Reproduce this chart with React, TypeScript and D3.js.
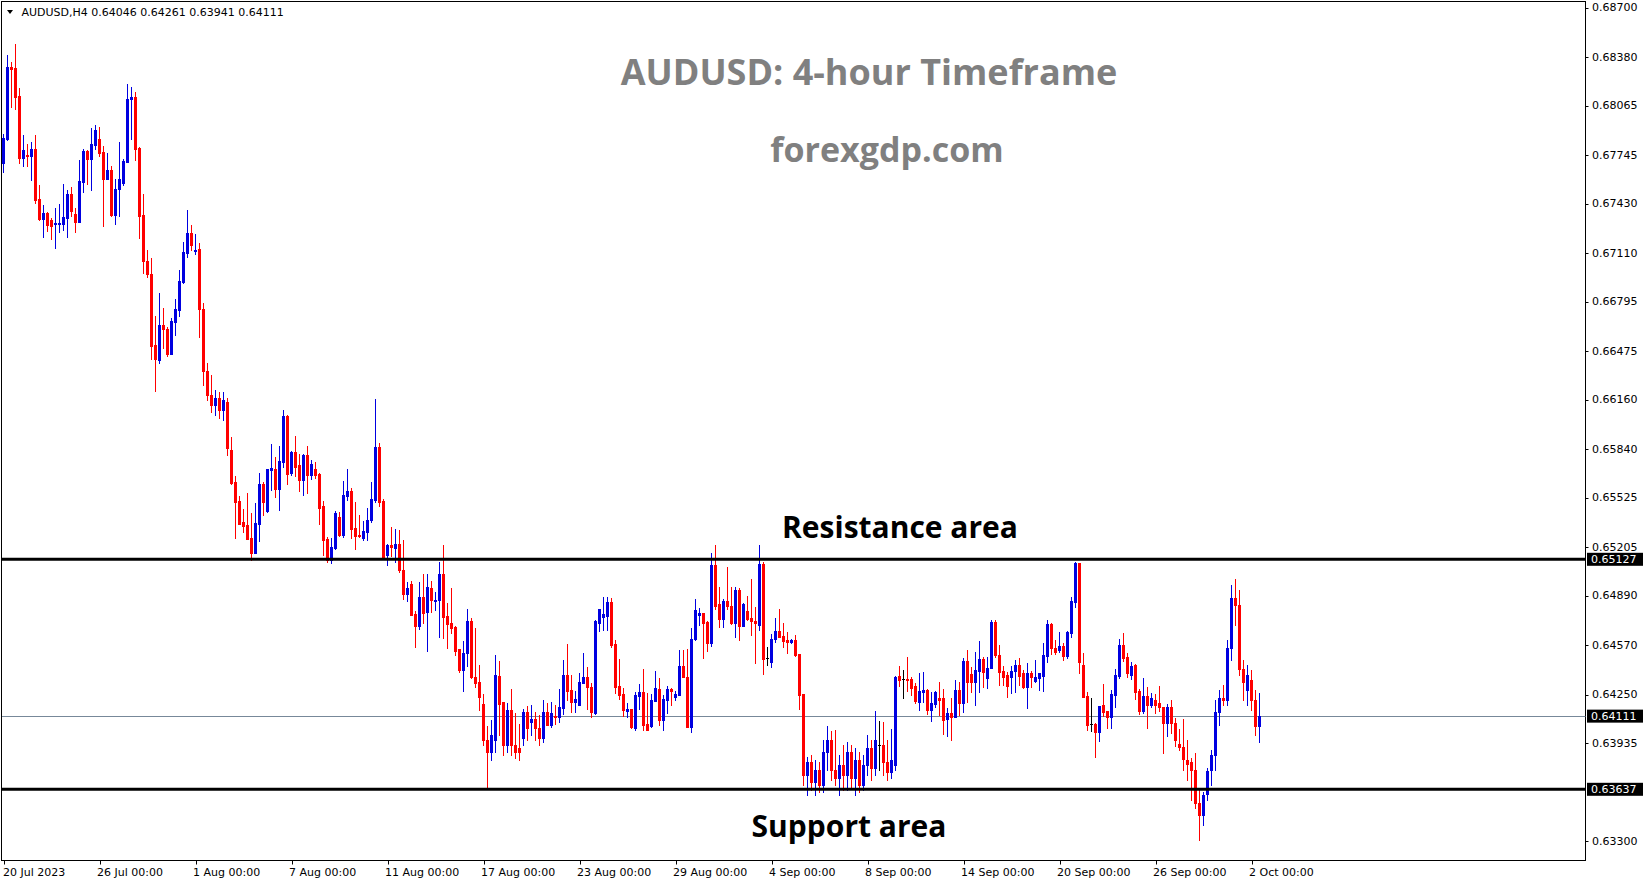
import React from 'react';
import * as d3 from 'd3';

const openP = [
0.67695,0.67850,0.68317,0.68310,0.68129,0.67727,0.67747,0.67740,0.67786,0.67462,
0.67332,0.67371,0.67325,0.67300,0.67300,0.67300,0.67338,0.67494,0.67364,0.67312,
0.67572,0.67773,0.67721,0.67811,0.67850,0.67766,0.67591,0.67649,0.67358,0.67526,
0.67565,0.67701,0.68110,0.68123,0.67792,0.67358,0.67060,0.66975,0.66515,0.66418,
0.66645,0.66619,0.66457,0.66664,0.66742,0.66924,0.67112,0.67241,0.67125,0.67138,
0.66749,0.66347,0.66191,0.66127,0.66172,0.66094,0.66146,0.65835,0.65628,0.65506,
0.65369,0.65350,0.65266,0.65169,0.65357,0.65615,0.65441,0.65705,0.65712,0.65582,
0.65757,0.66055,0.65686,0.65822,0.65738,0.65641,0.65803,0.65673,0.65712,0.65680,
0.65473,0.65259,0.65123,0.65201,0.65402,0.65285,0.65537,0.65569,0.65331,0.65285,
0.65266,0.65305,0.65382,0.65512,0.65854,0.65506,0.65156,0.65220,0.65201,0.65227,
0.65058,0.64903,0.64968,0.64773,0.64696,0.64884,0.64786,0.64942,0.64858,0.64864,
0.65033,0.64761,0.64715,0.64689,0.64547,0.64410,0.64521,0.64728,0.64365,0.64333,
0.64190,0.63957,0.63879,0.63957,0.64372,0.64203,0.63924,0.64151,0.63924,0.63905,
0.63970,0.64138,0.64073,0.64093,0.64035,0.63970,0.64138,0.64054,0.64112,0.64106,
0.64164,0.64378,0.64281,0.64203,0.64184,0.64326,0.64365,0.64300,0.64132,0.64715,
0.64754,0.64761,0.64851,0.64579,0.64307,0.64255,0.64145,0.64158,0.64035,0.64242,
0.64268,0.64061,0.64048,0.64210,0.64287,0.64086,0.64216,0.64287,0.64236,0.64248,
0.64436,0.64365,0.64041,0.64611,0.64767,0.64780,0.64721,0.64585,0.65091,0.64838,
0.64741,0.64858,0.64825,0.64715,0.64929,0.64696,0.64793,0.64747,0.64728,0.64702,
0.65097,0.64488,0.64462,0.64611,0.64663,0.64631,0.64605,0.64592,0.64605,0.64514,
0.64255,0.63730,0.63814,0.63685,0.63762,0.63665,0.63879,0.63957,0.63762,0.63711,
0.63795,0.63730,0.63879,0.63711,0.63827,0.63665,0.63795,0.63905,0.63776,0.63924,
0.63924,0.63814,0.63750,0.63795,0.64372,0.64352,0.64352,0.64352,0.64307,0.64203,
0.64268,0.64281,0.64151,0.64190,0.64229,0.64229,0.64093,0.64132,0.64106,0.64281,
0.64197,0.64469,0.64385,0.64333,0.64404,0.64482,0.64359,0.64423,0.64721,0.64508,
0.64404,0.64378,0.64365,0.64404,0.64443,0.64391,0.64300,0.64391,0.64339,0.64359,
0.64372,0.64501,0.64709,0.64553,0.64540,0.64566,0.64501,0.64650,0.64851,0.65104,
0.64443,0.64242,0.64061,0.64061,0.64009,0.64184,0.64145,0.64106,0.64248,0.64372,
0.64572,0.64495,0.64378,0.64443,0.64274,0.64145,0.64242,0.64184,0.64216,0.64197,
0.64171,0.64067,0.64171,0.64067,0.63931,0.63911,0.63827,0.63814,0.63762,0.63548,
0.63471,0.63607,0.63762,0.63860,0.64138,0.64229,0.64216,0.64553,0.64877,0.64832,
0.64417,0.64281,0.64346,0.64216,0.64046
];

const highP = [
0.67883,0.68395,0.68349,0.68466,0.68181,0.67876,0.67818,0.67831,0.67876,0.67552,
0.67423,0.67377,0.67338,0.67403,0.67429,0.67559,0.67520,0.67539,0.67403,0.67714,
0.67786,0.67779,0.67922,0.67941,0.67928,0.67805,0.67760,0.67675,0.67591,0.67831,
0.67721,0.68207,0.68187,0.68155,0.67798,0.67494,0.67131,0.67079,0.66703,0.66852,
0.66755,0.66632,0.66690,0.66814,0.67001,0.67183,0.67390,0.67293,0.67235,0.67176,
0.66788,0.66399,0.66321,0.66224,0.66211,0.66211,0.66172,0.65919,0.65667,0.65537,
0.65454,0.65556,0.65428,0.65493,0.65686,0.65628,0.65712,0.65874,0.65790,0.65861,
0.66094,0.66062,0.65829,0.65926,0.65809,0.65809,0.65861,0.65770,0.65757,0.65686,
0.65506,0.65272,0.65266,0.65441,0.65434,0.65634,0.65712,0.65589,0.65499,0.65415,
0.65376,0.65460,0.65628,0.66166,0.65880,0.65518,0.65227,0.65337,0.65324,0.65318,
0.65253,0.64981,0.64987,0.64793,0.64981,0.65033,0.65033,0.64987,0.64916,0.65110,
0.65220,0.64845,0.64942,0.64696,0.64547,0.64598,0.64806,0.64747,0.64683,0.64443,
0.64255,0.64048,0.64086,0.64508,0.64469,0.64203,0.64197,0.64287,0.64132,0.64061,
0.64158,0.64177,0.64184,0.64138,0.64119,0.64216,0.64197,0.64203,0.64184,0.64287,
0.64475,0.64579,0.64378,0.64274,0.64391,0.64521,0.64430,0.64326,0.64734,0.64806,
0.64884,0.64884,0.64877,0.64605,0.64482,0.64294,0.64197,0.64158,0.64268,0.64320,
0.64417,0.64261,0.64255,0.64404,0.64359,0.64248,0.64307,0.64294,0.64274,0.64540,
0.64540,0.64547,0.64683,0.64871,0.64812,0.64780,0.64728,0.65169,0.65220,0.64948,
0.64871,0.65078,0.64948,0.64948,0.64942,0.64845,0.64890,0.65000,0.64819,0.65220,
0.65110,0.64559,0.64644,0.64747,0.64806,0.64715,0.64657,0.64611,0.64637,0.64514,
0.64255,0.63847,0.63860,0.63827,0.63814,0.63957,0.64048,0.64015,0.64022,0.63860,
0.63924,0.63944,0.63924,0.63905,0.63879,0.63860,0.63989,0.63957,0.64145,0.64080,
0.64073,0.63957,0.64028,0.64372,0.64436,0.64410,0.64495,0.64365,0.64326,0.64391,
0.64398,0.64287,0.64268,0.64274,0.64333,0.64287,0.64164,0.64229,0.64346,0.64333,
0.64488,0.64540,0.64430,0.64527,0.64598,0.64495,0.64495,0.64734,0.64734,0.64572,
0.64436,0.64398,0.64436,0.64475,0.64488,0.64410,0.64456,0.64404,0.64475,0.64391,
0.64585,0.64734,0.64715,0.64605,0.64657,0.64585,0.64663,0.64884,0.65110,0.65104,
0.64521,0.64268,0.64229,0.64067,0.64177,0.64320,0.64145,0.64281,0.64417,0.64611,
0.64650,0.64521,0.64462,0.64449,0.64287,0.64359,0.64300,0.64261,0.64255,0.64307,
0.64171,0.64190,0.64216,0.64099,0.64028,0.64093,0.63957,0.63840,0.63873,0.63633,
0.63620,0.63776,0.63892,0.64216,0.64281,0.64313,0.64605,0.64961,0.65000,0.64929,
0.64475,0.64443,0.64410,0.64281,0.64261
];

const lowP = [
0.67636,0.67844,0.68058,0.68045,0.67695,0.67675,0.67675,0.67585,0.67436,0.67325,
0.67215,0.67254,0.67202,0.67144,0.67248,0.67261,0.67215,0.67351,0.67248,0.67312,
0.67507,0.67559,0.67520,0.67786,0.67740,0.67287,0.67591,0.67351,0.67300,0.67351,
0.67552,0.67701,0.67850,0.67714,0.67209,0.66982,0.66956,0.66425,0.66217,0.66399,
0.66496,0.66444,0.66457,0.66580,0.66703,0.66917,0.67086,0.67131,0.67105,0.66567,
0.66256,0.66159,0.66081,0.66062,0.66042,0.66029,0.65803,0.65615,0.65266,0.65357,
0.65305,0.65259,0.65123,0.65169,0.65246,0.65415,0.65434,0.65576,0.65531,0.65447,
0.65725,0.65615,0.65673,0.65667,0.65569,0.65543,0.65556,0.65647,0.65654,0.65357,
0.65156,0.65110,0.65104,0.65195,0.65279,0.65272,0.65512,0.65266,0.65195,0.65272,
0.65253,0.65253,0.65369,0.65499,0.65473,0.65136,0.65091,0.65149,0.65110,0.65046,
0.64871,0.64858,0.64767,0.64559,0.64676,0.64715,0.64534,0.64786,0.64799,0.64624,
0.64618,0.64553,0.64650,0.64508,0.64398,0.64274,0.64436,0.64359,0.64300,0.64151,
0.63924,0.63652,0.63827,0.63879,0.63989,0.63860,0.63879,0.63860,0.63840,0.63827,
0.63924,0.63957,0.63989,0.63957,0.63924,0.63944,0.64054,0.64041,0.64061,0.64073,
0.64125,0.64216,0.64138,0.64138,0.64184,0.64326,0.64158,0.64106,0.64125,0.64663,
0.64670,0.64670,0.64559,0.64261,0.64223,0.64112,0.64106,0.64035,0.64022,0.64158,
0.64022,0.64022,0.64041,0.64210,0.64054,0.64022,0.64132,0.64184,0.64216,0.64248,
0.64365,0.64041,0.64009,0.64605,0.64702,0.64488,0.64534,0.64566,0.64806,0.64689,
0.64689,0.64806,0.64709,0.64624,0.64605,0.64696,0.64734,0.64637,0.64456,0.64670,
0.64385,0.64443,0.64430,0.64592,0.64624,0.64559,0.64521,0.64585,0.64501,0.64158,
0.63665,0.63600,0.63633,0.63600,0.63620,0.63620,0.63762,0.63698,0.63665,0.63600,
0.63633,0.63633,0.63652,0.63600,0.63620,0.63633,0.63730,0.63698,0.63730,0.63762,
0.63730,0.63698,0.63711,0.63762,0.64307,0.64229,0.64274,0.64248,0.64197,0.64151,
0.64203,0.64125,0.64080,0.64171,0.64119,0.63996,0.63983,0.63957,0.64106,0.64119,
0.64138,0.64203,0.64268,0.64184,0.64268,0.64300,0.64294,0.64423,0.64495,0.64313,
0.64313,0.64236,0.64261,0.64268,0.64313,0.64294,0.64164,0.64300,0.64333,0.64281,
0.64274,0.64462,0.64514,0.64514,0.64527,0.64475,0.64488,0.64624,0.64819,0.64391,
0.64236,0.64022,0.64015,0.63847,0.63950,0.64112,0.64035,0.64035,0.64171,0.64359,
0.64469,0.64365,0.64352,0.64223,0.64125,0.64132,0.64035,0.64171,0.64132,0.64145,
0.63873,0.63983,0.64002,0.63918,0.63892,0.63762,0.63698,0.63568,0.63516,0.63309,
0.63406,0.63568,0.63665,0.63762,0.64054,0.64184,0.64184,0.64475,0.64702,0.64378,
0.64216,0.64184,0.64151,0.63989,0.63941
];

const closeP = [
0.67857,0.68317,0.68304,0.68123,0.67727,0.67779,0.67740,0.67786,0.67455,0.67332,
0.67371,0.67293,0.67287,0.67306,0.67306,0.67345,0.67494,0.67384,0.67312,0.67578,
0.67773,0.67721,0.67818,0.67909,0.67760,0.67591,0.67649,0.67358,0.67526,0.67591,
0.67708,0.68110,0.68123,0.67786,0.67351,0.67060,0.66975,0.66509,0.66425,0.66645,
0.66619,0.66457,0.66671,0.66749,0.66930,0.67118,0.67241,0.67163,0.67131,0.66749,
0.66347,0.66191,0.66127,0.66172,0.66094,0.66159,0.65848,0.65621,0.65499,0.65357,
0.65344,0.65259,0.65169,0.65363,0.65615,0.65499,0.65712,0.65718,0.65582,0.65764,
0.66055,0.65680,0.65822,0.65725,0.65641,0.65803,0.65673,0.65744,0.65673,0.65460,
0.65253,0.65123,0.65207,0.65428,0.65285,0.65543,0.65569,0.65324,0.65279,0.65279,
0.65311,0.65382,0.65518,0.65854,0.65499,0.65136,0.65220,0.65207,0.65227,0.65058,
0.64903,0.64942,0.64767,0.64696,0.64884,0.64780,0.64948,0.64864,0.64864,0.65033,
0.64754,0.64709,0.64683,0.64534,0.64410,0.64521,0.64728,0.64365,0.64326,0.64236,
0.63957,0.63879,0.63989,0.64378,0.64190,0.63924,0.64151,0.63924,0.63879,0.63879,
0.64138,0.64035,0.64093,0.64035,0.63970,0.64138,0.64054,0.64132,0.64106,0.64171,
0.64378,0.64274,0.64203,0.64223,0.64333,0.64365,0.64300,0.64138,0.64728,0.64806,
0.64773,0.64851,0.64572,0.64300,0.64248,0.64151,0.64158,0.64041,0.64248,0.64268,
0.64054,0.64022,0.64216,0.64294,0.64086,0.64223,0.64287,0.64274,0.64255,0.64436,
0.64365,0.64041,0.64611,0.64799,0.64780,0.64715,0.64585,0.65091,0.64825,0.64741,
0.64858,0.64825,0.64715,0.64929,0.64696,0.64838,0.64741,0.64728,0.64715,0.65097,
0.64482,0.64488,0.64611,0.64663,0.64624,0.64598,0.64592,0.64605,0.64508,0.64248,
0.63730,0.63814,0.63685,0.63762,0.63665,0.63879,0.63957,0.63762,0.63711,0.63795,
0.63730,0.63879,0.63711,0.63827,0.63665,0.63795,0.63905,0.63776,0.63957,0.63924,
0.63814,0.63750,0.63827,0.64365,0.64346,0.64352,0.64346,0.64294,0.64210,0.64274,
0.64281,0.64151,0.64197,0.64268,0.64216,0.64086,0.64132,0.64106,0.64281,0.64197,
0.64469,0.64333,0.64333,0.64410,0.64482,0.64398,0.64423,0.64721,0.64508,0.64398,
0.64365,0.64307,0.64404,0.64443,0.64372,0.64300,0.64391,0.64365,0.64365,0.64391,
0.64508,0.64709,0.64553,0.64527,0.64566,0.64501,0.64657,0.64858,0.65104,0.64462,
0.64236,0.64054,0.64061,0.64009,0.64177,0.64138,0.64106,0.64255,0.64378,0.64572,
0.64488,0.64391,0.64436,0.64268,0.64145,0.64242,0.64184,0.64229,0.64184,0.64171,
0.64067,0.64171,0.64067,0.63957,0.63911,0.63834,0.63801,0.63762,0.63548,0.63471,
0.63600,0.63756,0.63860,0.64138,0.64229,0.64216,0.64553,0.64877,0.64832,0.64417,
0.64333,0.64378,0.64216,0.64046,0.64111
];

const dateLabels = [
  '20 Jul 2023', '26 Jul 00:00', '1 Aug 00:00', '7 Aug 00:00', '11 Aug 00:00',
  '17 Aug 00:00', '23 Aug 00:00', '29 Aug 00:00', '4 Sep 00:00', '8 Sep 00:00',
  '14 Sep 00:00', '20 Sep 00:00', '26 Sep 00:00', '2 Oct 00:00'
];
const barsPerLabel = 24;

const priceTicks = [
  0.687, 0.6838, 0.68065, 0.67745, 0.6743, 0.6711, 0.66795, 0.66475, 0.6616,
  0.6584, 0.65525, 0.65205, 0.6489, 0.6457, 0.6425, 0.63935, 0.633
];

const resistanceLevel = 0.65127;
const supportLevel = 0.63637;
const lastPrice = 0.64111;
const headerText = 'AUDUSD,H4  0.64046 0.64261 0.63941 0.64111';

const W = 1649;
const H = 884;
const axisX = 1585.5;
const bottomY = 860.5;

const BLUE = '#0000E0';
const RED = '#FF0000';
const axisFont = 'DejaVu Sans, Verdana, sans-serif';
const titleFont = '"Open Sans", "Noto Sans", sans-serif';

export default function App() {
  const n = closeP.length;
  const x = d3.scaleLinear().domain([0, n - 1]).range([3.5, 3.5 + 4 * (n - 1)]);
  const y = d3.scaleLinear().domain([resistanceLevel, supportLevel]).range([559.3, 789.3]);

  const candles = closeP.map((c, i) => {
    const o = openP[i];
    const h = highP[i];
    const l = lowP[i];
    const col = c > o ? BLUE : c < o ? RED : '#000000';
    const cx = x(i);
    const yTop = Math.round(y(Math.max(o, c)));
    const yBot = Math.round(y(Math.min(o, c)));
    const yh = Math.round(y(h));
    const yl = Math.round(y(l));
    return (
      <g key={i}>
        <rect x={cx - 0.5} y={yh} width={1} height={Math.max(1, yl - yh + 1)} fill={col} />
        <rect x={cx - 1.5} y={yTop} width={3} height={Math.max(1, yBot - yTop + 1)} fill={col} />
      </g>
    );
  });

  const badge = (p: number, key: string) => {
    const yy = y(p);
    return (
      <g key={key}>
        <rect x={1587} y={yy - 6.5} width={56} height={13} fill="#000" />
        <text x={1591} y={yy} dominantBaseline="central" fontFamily={axisFont} fontSize={11} fill="#fff">
          {p.toFixed(5)}
        </text>
      </g>
    );
  };

  return (
    <svg width={W} height={H} style={{ position: 'absolute', left: 0, top: 0, background: '#fff' }}>
      <rect x={0} y={0} width={W} height={H} fill="#fff" />
      {/* chart frame */}
      <rect x={1.5} y={1.5} width={axisX - 1.5} height={bottomY - 1.5} fill="none" stroke="#000" strokeWidth={1} />

      {/* title texts */}
      <text x={869} y={71.5} textAnchor="middle" dominantBaseline="central" fontFamily={titleFont} fontWeight={700} fontSize={36} fill="#808080">
        AUDUSD: 4-hour Timeframe
      </text>
      <text x={887} y={149} textAnchor="middle" dominantBaseline="central" fontFamily={titleFont} fontWeight={700} fontSize={34} fill="#808080">
        forexgdp.com
      </text>

      {/* current price line */}
      <line x1={2} x2={axisX} y1={Math.round(y(lastPrice)) + 0.5} y2={Math.round(y(lastPrice)) + 0.5} stroke="#778899" strokeWidth={1} />

      {/* candles */}
      {candles}

      {/* levels */}
      <line x1={2} x2={axisX} y1={y(resistanceLevel)} y2={y(resistanceLevel)} stroke="#000" strokeWidth={3} />
      <line x1={2} x2={axisX} y1={y(supportLevel)} y2={y(supportLevel)} stroke="#000" strokeWidth={3} />

      <text x={900} y={526} textAnchor="middle" dominantBaseline="central" fontFamily={titleFont} fontWeight={700} fontSize={30} fill="#000">
        Resistance area
      </text>
      <text x={849} y={825} textAnchor="middle" dominantBaseline="central" fontFamily={titleFont} fontWeight={700} fontSize={30} fill="#000">
        Support area
      </text>

      {/* header */}
      <path d="M7,10 L13,10 L10,14 Z" fill="#000" />
      <text x={21.5} y={12.5} dominantBaseline="central" fontFamily={axisFont} fontSize={11} fill="#000">
        {headerText}
      </text>

      {/* price axis */}
      {priceTicks.map((p, i) => (
        <g key={'pt' + i}>
          <line x1={axisX} x2={axisX + 3} y1={Math.round(y(p)) + 0.5} y2={Math.round(y(p)) + 0.5} stroke="#000" />
          <text x={1592} y={y(p)} dominantBaseline="central" fontFamily={axisFont} fontSize={11} fill="#000">
            {p.toFixed(5)}
          </text>
        </g>
      ))}
      {badge(resistanceLevel, 'br')}
      {badge(lastPrice, 'bl')}
      {badge(supportLevel, 'bs')}

      {/* time axis */}
      {dateLabels.map((d, i) => {
        const xx = x(i * barsPerLabel);
        return (
          <g key={'dl' + i}>
            <line x1={Math.round(xx) + 0.5} x2={Math.round(xx) + 0.5} y1={bottomY} y2={bottomY + 4} stroke="#000" />
            <text x={i === 0 ? xx - 0.5 : xx - 2.5} y={872} dominantBaseline="central" fontFamily={axisFont} fontSize={11} fill="#000">
              {d}
            </text>
          </g>
        );
      })}
    </svg>
  );
}
